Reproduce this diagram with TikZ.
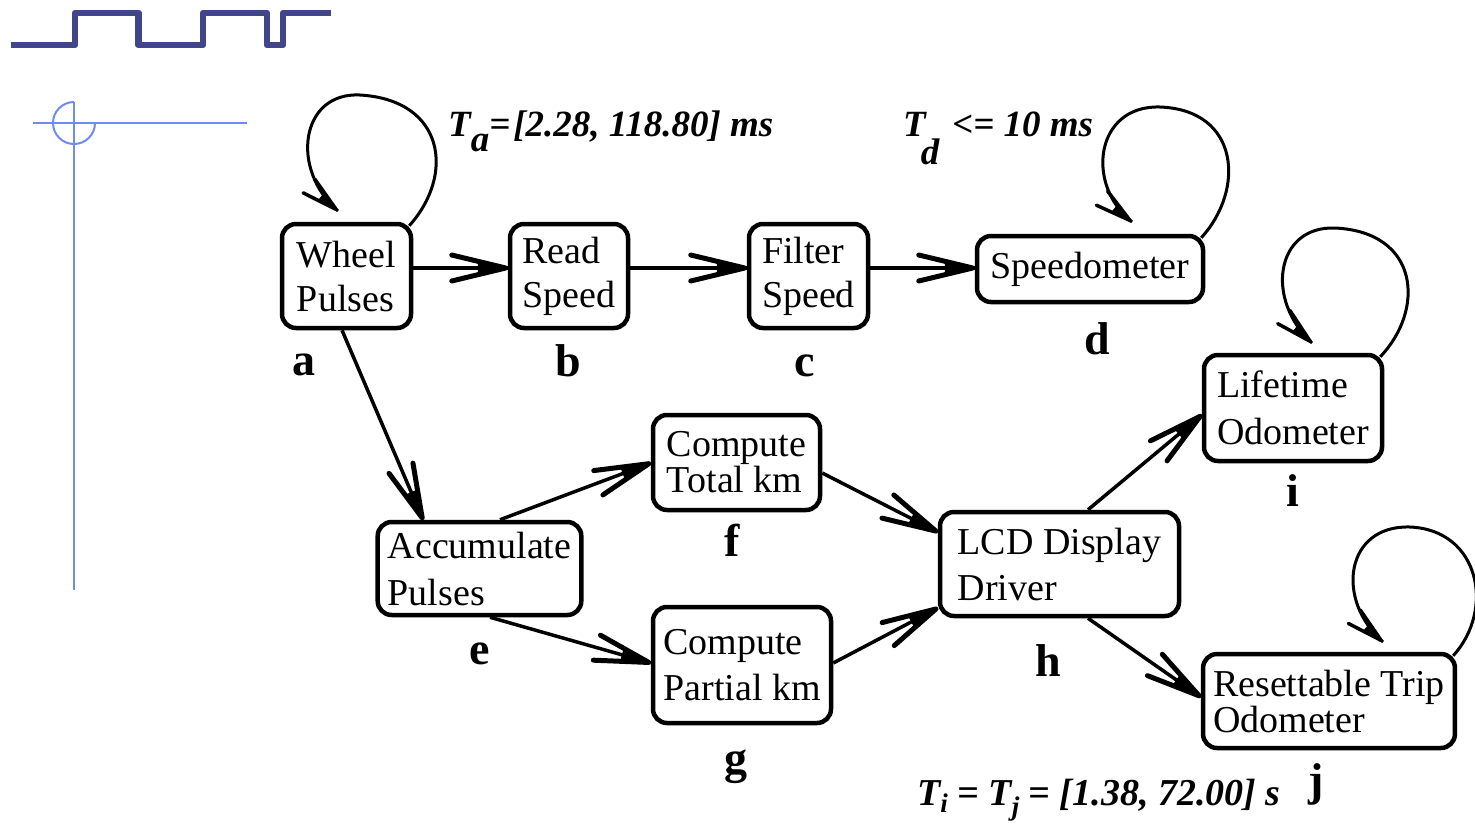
\documentclass[tikz,border=0pt]{standalone}
\usepackage{fontspec}
\setmainfont{Liberation Serif}
\usetikzlibrary{decorations.markings}
\definecolor{wave}{RGB}{64,69,140}
\definecolor{guide}{RGB}{110,140,240}
% barbed head: barb length, barb half-width, barb stroke, core length, core half-width
\newcommand{\barbhead}[5]{%
  \draw[line width=#3pt, line cap=round, line join=round]
    (-#1pt,#2pt) -- (-2pt,0pt) -- (-#1pt,-#2pt);
  \fill (0pt,0pt) -- (-#4pt,#5pt) -- (-#4pt,-#5pt) -- cycle;}
\tikzset{
  stagebox/.style={draw, line width=4.5pt, rounded corners=14pt, align=left,
    inner xsep=10pt, inner ysep=0pt, anchor=center,
    font=\fontsize{38}{44}\selectfont},
  tag/.style={font=\fontsize{46}{46}\selectfont\bfseries, anchor=base, inner sep=0pt},
  flow/.style={line width=3.5pt, postaction={decorate},
    decoration={markings, mark=at position 1 with {\barbhead{56}{13}{5}{30}{6}}}},
  loopback/.style={line width=3pt, postaction={decorate},
    decoration={markings, mark=at position 0.999 with {\barbhead{38}{9}{3.5}{22}{4.5}}}},
  note/.style={font=\fontsize{37}{37}\selectfont\bfseries\itshape, anchor=base west, inner sep=0pt},
}
\begin{document}
\begin{tikzpicture}[x=1pt,y=-1pt]
\useasboundingbox (0,0) rectangle (1475,825);
\clip (0,0) rectangle (1475,825);

% pulse train and guide marks
\draw[wave, line width=6.7pt, line join=round]
  (11,45) -- (75,45) -- (75,13) -- (138.5,13) -- (138.5,45) -- (203,45) -- (203,13)
  -- (267,13) -- (267,45) -- (283,45) -- (283,13) -- (331,13);
\draw[guide, line width=2pt] (33,123) -- (247,123);
\draw[guide, line width=2pt] (74,102) -- (74,590);
\draw[guide, line width=2pt] (74,102) arc[start angle=-90, end angle=-360, radius=21];

% processing stages
\node[stagebox, minimum width=129pt, minimum height=104pt] (a) at (346.5,276) {Wheel\\Pulses};
\node[stagebox, minimum width=118pt, minimum height=104pt] (b) at (569,276) {Read\\Speed};
\node[stagebox, minimum width=119pt, minimum height=104pt] (c) at (808.5,276) {Filter\\Speed};
\node[stagebox, minimum width=226pt, minimum height=66pt] (d) at (1090,269) {Speedometer};
\node[stagebox, minimum width=201pt, minimum height=93pt, font=\fontsize{38}{47}\selectfont] (e) at (479.5,568.5) {Accumulate\\Pulses};
\node[stagebox, minimum width=167pt, minimum height=95pt, font=\fontsize{38}{36}\selectfont] (f) at (736.5,462.5) {Compute\\Total km};
\node[stagebox, minimum width=178pt, minimum height=116pt, font=\fontsize{38}{46}\selectfont] (g) at (742,665) {Compute\\Partial km};
\node[stagebox, minimum width=239pt, minimum height=104pt, font=\fontsize{38}{46}\selectfont] (h) at (1059.5,564) {LCD Display\\Driver};
\node[stagebox, minimum width=178pt, minimum height=106pt, font=\fontsize{38}{47}\selectfont] (i) at (1293,408) {Lifetime\\Odometer};
\node[stagebox, minimum width=250pt, minimum height=94pt, font=\fontsize{38}{36}\selectfont] (j) at (1329,701) {Resettable Trip\\Odometer};

% stage letters
\node[tag] (ta) at (304,375) {a};
\node[tag] (tb) at (568,376) {b};
\node[tag] (tc) at (805,376) {c};
\node[tag] (td) at (1097,354) {d};
\node[tag] (te) at (480,664) {e};
\node[tag] (tf) at (732,556) {f};
\node[tag] (tg) at (736,773) {g};
\node[tag] (th) at (1048,676) {h};
\node[tag] (ti) at (1293,506) {i};
\node[tag] (tj) at (1316,795) {j};

% data flow
\draw[flow] (a.east |- 0,268) -- (b.west |- 0,268);
\draw[flow] (b.east |- 0,268) -- (c.west |- 0,268);
\draw[flow] (c.east |- 0,268) -- (d.west |- 0,268);
\draw[flow] (a.south -| 342,0) -- (e.north -| 423,0);
\draw[flow] (e.north -| 500,0) -- (f.west |- 0,463);
\draw[flow] (e.south -| 490,0) -- (g.west |- 0,663);
\draw[flow] (f.east |- 0,473) -- (h.west |- 0,532);
\draw[flow] (g.east |- 0,663) -- (h.west |- 0,608);
\draw[flow] (h.north -| 1088,0) -- (i.west |- 0,415);
\draw[flow] (h.south -| 1088,0) -- (j.west |- 0,697);

% periodic self-activation
\coordinate (loopA) at (338,211);
\coordinate (loopD) at (1132,222);
\coordinate (loopI) at (1312,343);
\coordinate (loopJ) at (1383,642);
\draw[loopback] ([shift={(-4,4)}]a.north east) .. controls (455,175) and (445,100) .. (360,95)
  .. controls (300,92) and (290,170) .. (loopA);
\draw[loopback] ([shift={(-4,4)}]d.north east) .. controls (1245,190) and (1240,110) .. (1160,107)
  .. controls (1095,105) and (1085,185) .. (loopD);
\draw[loopback] ([shift={(-4,4)}]i.north east) .. controls (1425,310) and (1420,232) .. (1335,228)
  .. controls (1275,226) and (1265,300) .. (loopI);
\draw[loopback] ([shift={(-4,4)}]j.north east) .. controls (1495,610) and (1480,530) .. (1410,527)
  .. controls (1345,525) and (1335,600) .. (loopJ);

% timing annotations
\node[note] (na) at (448,136) {T\raisebox{-15pt}{a}=\kern3pt[2.28, 118.80] ms};
\node[note] (nd) at (903,136) {T\kern-5pt\raisebox{-28pt}{d}\kern13pt<= 10 ms};
\node[note] (nij) at (917,805) {\fontsize{38}{38}\selectfont T\raisebox{-7pt}{\fontsize{27}{27}\selectfont i} = T\raisebox{-10pt}{\fontsize{27}{27}\selectfont j} = [1.38, 72.00] s};
\end{tikzpicture}
\end{document}
